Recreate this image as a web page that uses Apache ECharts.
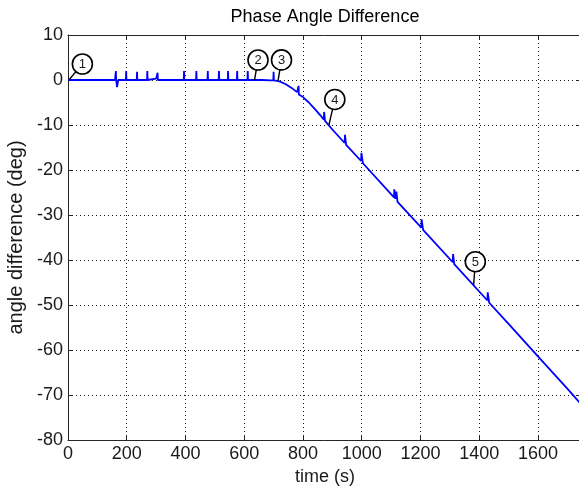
<!DOCTYPE html>
<html>
<head>
<meta charset="utf-8">
<title>Phase Angle Difference</title>
<script src="https://cdn.jsdelivr.net/npm/echarts@6/dist/echarts.min.js"></script>
<style>
  html, body { margin: 0; padding: 0; background: #fff; }
  #chart { width: 579px; height: 491px; }
</style>
</head>
<body>
<div id="chart"></div>
<script>
// Phase angle difference trace: [time (s), angle difference (deg)]
const phaseTrace = [
  [0, 0], [160, 0], [163, 2.0], [164, 0], [167, -1.6], [171, 0],
  [197, 0], [198, 2.0], [199, 0],
  [234, 0], [235, 1.8], [236, 0],
  [269, 0], [270, 2.0], [271, 0], [276, 0.3], [300, 0.3],
  [304, 0], [305, 1.6], [306, 0],
  [394, 0], [395, 2.0], [396, 0],
  [436, 0], [437, 2.0], [438, 0],
  [475, 0], [476, 2.0], [477, 0],
  [513, 0], [514, 2.0], [515, 0],
  [544, 0], [545, 2.0], [546, 0],
  [575, 0], [576, 2.0], [577, 0],
  [611, 0], [612, 2.0], [613, 0],
  [660, 0], [690, -0.1], [699, -0.1], [700, 1.8], [701, -0.1],
  [720, -0.3], [740, -0.9], [760, -1.7], [780, -2.7],
  [784, -3.1], [785, -1.3], [786, -3.2],
  [800, -3.8], [820, -5.0], [840, -6.4], [860, -7.9],
  [871, -8.8], [872, -7.1], [874, -7.3], [875, -9.1],
  [888, -10.1], [900, -11.0],
  [942, -14.0], [943, -12.2], [946, -12.4], [947, -14.4],
  [998, -18.0], [999, -16.2], [1003, -16.5], [1004, -18.5],
  [1110, -26.1], [1111, -24.3], [1113, -24.5], [1114, -26.4],
  [1117, -26.6], [1118, -24.8], [1121, -25.1], [1122, -27.1],
  [1203, -32.8], [1204, -31.0], [1208, -31.3], [1209, -33.3],
  [1310, -40.5], [1311, -38.7], [1314, -39.0], [1315, -40.9],
  [1428, -49.0], [1429, -47.2], [1433, -47.5], [1434, -49.5],
  [1500, -54.2], [1600, -61.4], [1700, -68.6], [1750, -72.3]
];

// Numbered event markers: [time (s), angle difference (deg)]
const eventPoints = [
  [3, 0], [635, 0], [715, -0.2], [888, -10.1], [1381, -45.6]
];
const eventLabels = ['1', '2', '3', '4', '5'];

// Tick values
const xTicks = [0, 200, 400, 600, 800, 1000, 1200, 1400, 1600];
const yTicks = [10, 0, -10, -20, -30, -40, -50, -60, -70, -80];

// Where each marker bubble sits relative to its point (px)
const bubbleOffsets = [[13.5, -16], [3.5, -20], [3.5, -21], [6, -26], [1.7, -23.5]];

const FONT = "'Liberation Sans', Arial, Helvetica, sans-serif";
const AXIS_COLOR = '#262626';

const chart = echarts.init(document.getElementById('chart'), null, { renderer: 'canvas' });

const gridLine = { show: true, lineStyle: { color: '#1a1a1a', width: 1, type: [1, 3] } };

function tickFormatter(list) {
  return function (v) { return list.indexOf(v) >= 0 ? String(v) : ''; };
}

chart.setOption({
  animation: false,
  backgroundColor: '#fff',
  title: {
    text: 'Phase Angle Difference',
    left: 320,
    textAlign: 'center',
    top: 3,
    textStyle: { fontFamily: FONT, fontSize: 18, fontWeight: 'normal', color: '#000' }
  },
  grid: { left: 68, top: 35, right: -3, bottom: 51, outerBoundsMode: 'none', containLabel: false },
  xAxis: [
    {
      type: 'value', min: 0, max: 1750, interval: 200, position: 'bottom',
      axisLine: { show: true, onZero: false, lineStyle: { color: AXIS_COLOR, width: 1 } },
      axisTick: { show: true, inside: true, length: 5, lineStyle: { color: AXIS_COLOR } },
      axisLabel: { fontFamily: FONT, fontSize: 18, color: '#1a1a1a', margin: 5,
                   showMaxLabel: false, formatter: tickFormatter(xTicks) },
      splitLine: gridLine,
      name: 'time (s)', nameLocation: 'middle', nameGap: 27,
      nameTextStyle: { fontFamily: FONT, fontSize: 18, color: '#1a1a1a' }
    },
    {
      type: 'value', min: 0, max: 1750, interval: 200, position: 'top',
      axisLine: { show: true, onZero: false, lineStyle: { color: AXIS_COLOR, width: 1 } },
      axisTick: { show: true, inside: true, length: 5, lineStyle: { color: AXIS_COLOR } },
      axisLabel: { show: false }, splitLine: { show: false }
    }
  ],
  yAxis: [
    {
      type: 'value', min: -80, max: 10, interval: 10, position: 'left',
      axisLine: { show: true, onZero: false, lineStyle: { color: AXIS_COLOR, width: 1 } },
      axisTick: { show: true, inside: true, length: 5, lineStyle: { color: AXIS_COLOR } },
      axisLabel: { fontFamily: FONT, fontSize: 18, color: '#1a1a1a', margin: 5,
                   formatter: tickFormatter(yTicks) },
      splitLine: gridLine,
      name: 'angle difference (deg)', nameLocation: 'middle', nameGap: 41,
      nameTextStyle: { fontFamily: FONT, fontSize: 20, color: '#1a1a1a' }
    },
    {
      type: 'value', min: -80, max: 10, interval: 10, position: 'right',
      axisLine: { show: true, onZero: false, lineStyle: { color: AXIS_COLOR, width: 1 } },
      axisTick: { show: true, inside: true, length: 5, lineStyle: { color: AXIS_COLOR } },
      axisLabel: { show: false }, splitLine: { show: false }
    }
  ],
  series: [
    {
      name: 'phase difference',
      type: 'line',
      data: phaseTrace,
      showSymbol: false,
      symbol: 'none',
      clip: true,
      lineStyle: { color: '#0000ff', width: 1.8 },
      z: 3
    },
    {
      name: 'events',
      type: 'custom',
      data: eventPoints,
      z: 5,
      clip: false,
      renderItem: function (params, api) {
        const p = api.coord([api.value(0), api.value(1)]);
        const off = bubbleOffsets[params.dataIndex];
        const r = 10;
        const cx = p[0] + off[0], cy = p[1] + off[1];
        const len = Math.sqrt(off[0] * off[0] + off[1] * off[1]);
        const ex = cx - off[0] / len * r, ey = cy - off[1] / len * r;
        return {
          type: 'group',
          children: [
            { type: 'line', shape: { x1: p[0], y1: p[1], x2: ex, y2: ey },
              style: { stroke: '#000', lineWidth: 1.4 } },
            { type: 'circle', shape: { cx: cx, cy: cy, r: r },
              style: { fill: '#fff', stroke: '#000', lineWidth: 1.6 } },
            { type: 'text', x: cx, y: cy + 0.5,
              style: { text: eventLabels[params.dataIndex], fontFamily: FONT, fontSize: 13,
                       fill: '#1a1a1a', align: 'center', verticalAlign: 'middle' } }
          ]
        };
      }
    }
  ]
});
</script>
</body>
</html>
